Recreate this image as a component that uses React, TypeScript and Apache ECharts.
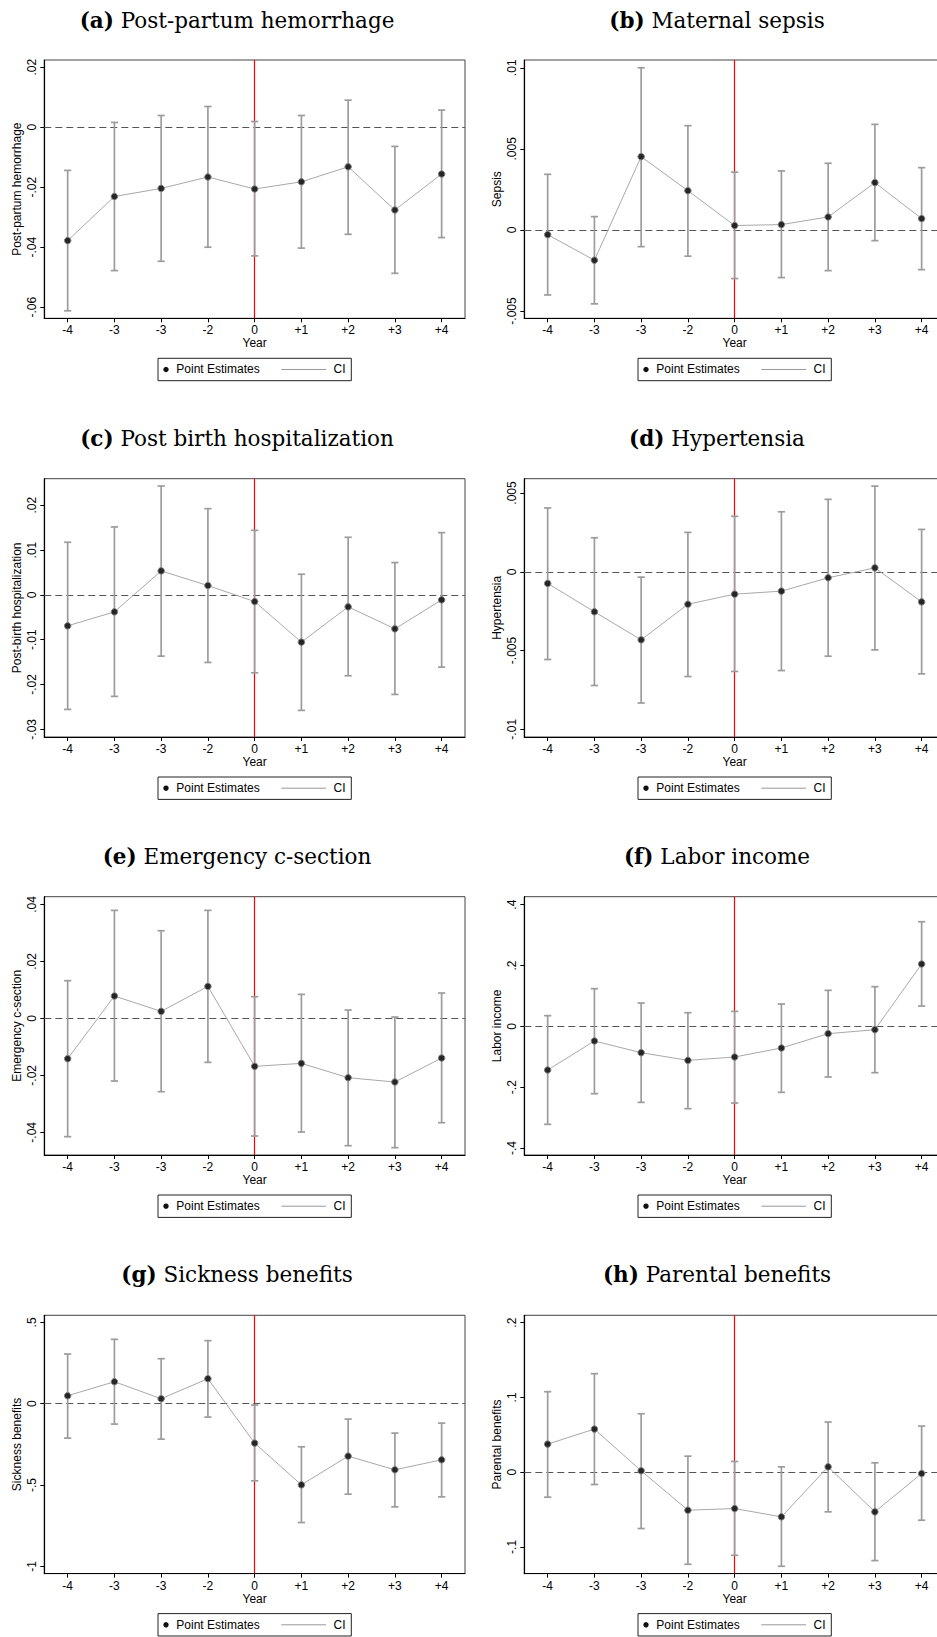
import React, { useEffect, useRef } from "react";
import * as echarts from "echarts";

// x-axis labels (event time); the reference repeats "-3"
const YEAR_LABELS = ["-4", "-3", "-3", "-2", "0", "+1", "+2", "+3", "+4"];
const EVENT_INDEX = YEAR_LABELS.indexOf("0");

// (a) Post-partum hemorrhage
const PPH_EST = [-0.0378, -0.0231, -0.0204, -0.0166, -0.0206, -0.0182, -0.0132, -0.0276, -0.0156];
const PPH_HI = [-0.0144, 0.0016, 0.0039, 0.0069, 0.0019, 0.0039, 0.009, -0.0064, 0.0057];
const PPH_LO = [-0.0612, -0.0478, -0.0447, -0.04, -0.0429, -0.0403, -0.0357, -0.0487, -0.0368];
const PPH_TICKS = [-0.06, -0.04, -0.02, 0, 0.02];

// (b) Maternal sepsis
const SEP_EST = [-0.00029, -0.00187, 0.00452, 0.00242, 0.00027, 0.00033, 0.0008, 0.00292, 0.0007];
const SEP_HI = [0.00343, 0.00082, 0.01, 0.00643, 0.00356, 0.00364, 0.00411, 0.00651, 0.00384];
const SEP_LO = [-0.00401, -0.00456, -0.00103, -0.00162, -0.003, -0.00294, -0.00251, -0.00066, -0.00245];
const SEP_TICKS = [-0.005, 0, 0.005, 0.01];

// (c) Post birth hospitalization
const HOS_EST = [-0.00691, -0.00379, 0.00535, 0.00208, -0.00149, -0.01055, -0.00267, -0.00758, -0.00111];
const HOS_HI = [0.01174, 0.01516, 0.0243, 0.01924, 0.01441, 0.00461, 0.01285, 0.00721, 0.01389];
const HOS_LO = [-0.02556, -0.02266, -0.01367, -0.01508, -0.01739, -0.02578, -0.01805, -0.02222, -0.01612];
const HOS_TICKS = [-0.03, -0.02, -0.01, 0, 0.01, 0.02];

// (d) Hypertensia
const HYP_EST = [-0.00074, -0.00254, -0.00432, -0.00206, -0.00142, -0.00123, -0.00038, 0.00025, -0.00191];
const HYP_HI = [0.00405, 0.00216, -0.00034, 0.0025, 0.00352, 0.00381, 0.0046, 0.00544, 0.00269];
const HYP_LO = [-0.00557, -0.00722, -0.00833, -0.00665, -0.00633, -0.00627, -0.00536, -0.00496, -0.00648];
const HYP_TICKS = [-0.01, -0.005, 0, 0.005];

// (e) Emergency c-section
const CSE_EST = [-0.01415, 0.00784, 0.00246, 0.01123, -0.01684, -0.01579, -0.02082, -0.02234, -0.01392];
const CSE_HI = [0.01322, 0.0379, 0.03076, 0.0379, 0.0076, 0.00842, 0.00292, 0.00047, 0.00889];
const CSE_LO = [-0.04152, -0.02199, -0.02573, -0.01544, -0.04129, -0.03988, -0.04468, -0.04538, -0.03661];
const CSE_TICKS = [-0.04, -0.02, 0, 0.02, 0.04];

// (f) Labor income
const INC_EST = [-0.1436, -0.0482, -0.0866, -0.1118, -0.1008, -0.0712, -0.0241, -0.011, 0.2049];
const INC_HI = [0.0351, 0.1238, 0.0767, 0.0449, 0.0493, 0.0734, 0.1184, 0.1304, 0.3441];
const INC_LO = [-0.3222, -0.2214, -0.2499, -0.2707, -0.2521, -0.217, -0.1666, -0.1523, 0.0668];
const INC_TICKS = [-0.4, -0.2, 0, 0.2, 0.4];

// (g) Sickness benefits
const SIC_EST = [0.0492, 0.1354, 0.0308, 0.1539, -0.2421, -0.4986, -0.3221, -0.4062, -0.3447];
const SIC_HI = [0.3057, 0.396, 0.277, 0.3878, -0.0082, -0.2647, -0.0944, -0.1805, -0.119];
const SIC_LO = [-0.2113, -0.1252, -0.2175, -0.0821, -0.474, -0.7304, -0.556, -0.634, -0.5724];
const SIC_TICKS = [-1, -0.5, 0, 0.5];

// (h) Parental benefits
const PAR_EST = [0.0375, 0.0576, 0.0018, -0.0509, -0.0487, -0.0598, 0.0071, -0.0531, -0.0018];
const PAR_HI = [0.1076, 0.1317, 0.0781, 0.0214, 0.0143, 0.0071, 0.067, 0.0125, 0.0616];
const PAR_LO = [-0.0335, -0.0165, -0.0754, -0.1232, -0.1112, -0.1259, -0.0531, -0.1183, -0.0643];
const PAR_TICKS = [-0.1, 0, 0.1, 0.2];

const PANEL_LETTERS = ["(a)", "(b)", "(c)", "(d)", "(e)", "(f)", "(g)", "(h)"];
const PANEL_TITLES = [
  "Post-partum hemorrhage",
  "Maternal sepsis",
  "Post birth hospitalization",
  "Hypertensia",
  "Emergency c-section",
  "Labor income",
  "Sickness benefits",
  "Parental benefits",
];
const Y_NAMES = [
  "Post-partum hemorrhage",
  "Sepsis",
  "Post-birth hospitalization",
  "Hypertensia",
  "Emergency c-section",
  "Labor income",
  "Sickness benefits",
  "Parental benefits",
];
const Y_RANGES: [number, number][] = [
  [-0.0637, 0.0224],
  [-0.00545, 0.01048],
  [-0.03172, 0.02593],
  [-0.01049, 0.00591],
  [-0.04795, 0.0427],
  [-0.423, 0.4263],
  [-1.0443, 0.5437],
  [-0.1357, 0.2098],
];
const PANEL_EST = [PPH_EST, SEP_EST, HOS_EST, HYP_EST, CSE_EST, INC_EST, SIC_EST, PAR_EST];
const PANEL_LO = [PPH_LO, SEP_LO, HOS_LO, HYP_LO, CSE_LO, INC_LO, SIC_LO, PAR_LO];
const PANEL_HI = [PPH_HI, SEP_HI, HOS_HI, HYP_HI, CSE_HI, INC_HI, SIC_HI, PAR_HI];
const PANEL_TICKS = [PPH_TICKS, SEP_TICKS, HOS_TICKS, HYP_TICKS, CSE_TICKS, INC_TICKS, SIC_TICKS, PAR_TICKS];

const SANS = '"Liberation Sans", Arial, sans-serif';
const SERIF = '"DejaVu Serif", serif';

// layout
const COL_LEFT = [44.3, 524.3];
const PLOT_W = 420.7;
const ROW_TOP = [60, 478.7, 896.7, 1315.3];
const PLOT_H = 258.3;
const TITLE_CX = [237, 717];
const TITLE_TOP = [9.5, 427.8, 845.5, 1263.8];

const stata = (v: number) => {
  if (Math.abs(v) < 1e-12) return "0";
  const s = String(Number(v.toFixed(6)));
  return s.replace(/^(-?)0\./, "$1.");
};

function buildOption() {
  const idx = YEAR_LABELS.map((_, i) => i);
  const grids: any[] = [];
  const xAxes: any[] = [];
  const yAxes: any[] = [];
  const series: any[] = [];
  const titles: any[] = [];
  const graphics: any[] = [];

  for (let p = 0; p < 8; p++) {
    const col = p % 2;
    const row = Math.floor(p / 2);
    const left = COL_LEFT[col];
    const top = ROW_TOP[row];
    grids.push({
      left,
      top,
      width: PLOT_W,
      height: PLOT_H,
      show: true,
      borderColor: "#444",
      borderWidth: 1,
      backgroundColor: "transparent",
      containLabel: false,
    });
    xAxes.push({
      gridIndex: p,
      type: "value",
      min: -0.5,
      max: 8.5,
      name: "Year",
      nameLocation: "middle",
      nameGap: 18,
      nameTextStyle: { fontFamily: SANS, fontSize: 12, color: "#000" },
      axisLine: { show: true, onZero: false, lineStyle: { color: "#000", width: 1.2 } },
      axisTick: { show: true, length: 4, customValues: idx, lineStyle: { color: "#000" } },
      axisLabel: {
        customValues: idx,
        formatter: (v: number) => YEAR_LABELS[Math.round(v)] ?? "",
        margin: 6,
        fontFamily: SANS,
        fontSize: 12,
        color: "#000",
      },
      splitLine: { show: false },
    });
    yAxes.push({
      gridIndex: p,
      type: "value",
      min: Y_RANGES[p][0],
      max: Y_RANGES[p][1],
      name: Y_NAMES[p],
      nameLocation: "middle",
      nameRotate: 90,
      nameGap: 21,
      nameTextStyle: { fontFamily: SANS, fontSize: 12, color: "#000" },
      axisLine: { show: true, onZero: false, lineStyle: { color: "#000", width: 1.2 } },
      axisTick: { show: true, length: 4, customValues: PANEL_TICKS[p], lineStyle: { color: "#000" } },
      axisLabel: {
        customValues: PANEL_TICKS[p],
        rotate: 90,
        margin: 6,
        formatter: stata,
        fontFamily: SANS,
        fontSize: 12,
        color: "#000",
      },
      splitLine: { show: false },
    });

    const est = PANEL_EST[p];
    const lo = PANEL_LO[p];
    const hi = PANEL_HI[p];

    // reference lines (event year, zero)
    series.push({
      type: "line",
      name: "ref",
      xAxisIndex: p,
      yAxisIndex: p,
      data: idx.map((i) => [i, est[i]]),
      symbol: "none",
      lineStyle: { opacity: 0 },
      silent: true,
      z: 1,
      markLine: {
        silent: true,
        z: 1,
        symbol: ["none", "none"],
        label: { show: false },
        emphasis: { disabled: true },
        data: [
          { xAxis: EVENT_INDEX, lineStyle: { color: "#ff0000", width: 1.2, type: "solid" } },
          { yAxis: 0, lineStyle: { color: "#555", width: 1.2, type: [7, 4] } },
        ],
      },
    });

    // CI error bars
    series.push({
      type: "custom",
      name: "CI",
      xAxisIndex: p,
      yAxisIndex: p,
      z: 2,
      silent: true,
      data: idx.map((i) => [i, lo[i], hi[i]]),
      encode: { x: 0, y: [1, 2] },
      renderItem: (params: any, api: any) => {
        const x = api.value(0);
        const t = api.coord([x, api.value(2)]);
        const b = api.coord([x, api.value(1)]);
        const cap = 3.6;
        const style = { stroke: "#9c9c9c", lineWidth: 1.7 };
        return {
          type: "group",
          children: [
            { type: "line", shape: { x1: t[0], y1: t[1], x2: b[0], y2: b[1] }, style },
            { type: "line", shape: { x1: t[0] - cap, y1: t[1], x2: t[0] + cap, y2: t[1] }, style },
            { type: "line", shape: { x1: b[0] - cap, y1: b[1], x2: b[0] + cap, y2: b[1] }, style },
          ],
        };
      },
    });

    // point estimates
    series.push({
      type: "line",
      name: "Point Estimates",
      xAxisIndex: p,
      yAxisIndex: p,
      z: 3,
      silent: true,
      data: idx.map((i) => [i, est[i]]),
      symbol: "circle",
      symbolSize: 6.5,
      showSymbol: true,
      lineStyle: { color: "#a8a8a8", width: 1 },
      itemStyle: { color: "#262626", borderColor: "#808080", borderWidth: 1 },
    });

    titles.push({
      text: `{b|${PANEL_LETTERS[p]}} ${PANEL_TITLES[p]}`,
      left: TITLE_CX[col],
      top: TITLE_TOP[row],
      textAlign: "center",
      padding: 0,
      textStyle: {
        fontFamily: SERIF,
        fontSize: 21.5,
        fontWeight: "normal",
        color: "#000",
        rich: {
          b: { fontFamily: SERIF, fontSize: 21.5, fontWeight: "bold", color: "#000" },
        },
      },
    });

    // legend box
    const cx = left + PLOT_W / 2;
    const ly = top + PLOT_H + 40;
    const lw = 193.3;
    const lh = 22.4;
    const mid = lh / 2;
    graphics.push({
      type: "group",
      x: cx - lw / 2,
      y: ly,
      silent: true,
      children: [
        {
          type: "rect",
          shape: { x: 0, y: 0, width: lw, height: lh },
          style: { fill: "#fff", stroke: "#222", lineWidth: 1 },
        },
        { type: "circle", shape: { cx: 8, cy: mid, r: 2.7 }, style: { fill: "#111" } },
        {
          type: "text",
          style: {
            x: 18.3,
            y: mid,
            text: "Point Estimates",
            font: `12px ${SANS}`,
            fill: "#000",
            verticalAlign: "middle",
            textVerticalAlign: "middle",
            align: "left",
            textAlign: "left",
          },
        },
        {
          type: "line",
          shape: { x1: 123.3, y1: mid, x2: 168, y2: mid },
          style: { stroke: "#999", lineWidth: 1 },
        },
        {
          type: "text",
          style: {
            x: 175.6,
            y: mid,
            text: "CI",
            font: `12px ${SANS}`,
            fill: "#000",
            verticalAlign: "middle",
            textVerticalAlign: "middle",
            align: "left",
            textAlign: "left",
          },
        },
      ],
    });
  }

  return {
    animation: false,
    backgroundColor: "#fff",
    title: titles,
    grid: grids,
    xAxis: xAxes,
    yAxis: yAxes,
    series,
    graphic: graphics,
  };
}

export default function App() {
  const ref = useRef<HTMLDivElement>(null);
  useEffect(() => {
    if (!ref.current) return;
    const chart = echarts.init(ref.current, undefined, { renderer: "svg" });
    chart.setOption(buildOption() as any);
    return () => chart.dispose();
  }, []);
  return (
    <div
      style={{
        position: "absolute",
        left: 0,
        top: 0,
        width: 937,
        height: 1637,
        overflow: "hidden",
        background: "#fff",
      }}
    >
      <div ref={ref} style={{ width: 960, height: 1637, background: "#fff" }} />
    </div>
  );
}
